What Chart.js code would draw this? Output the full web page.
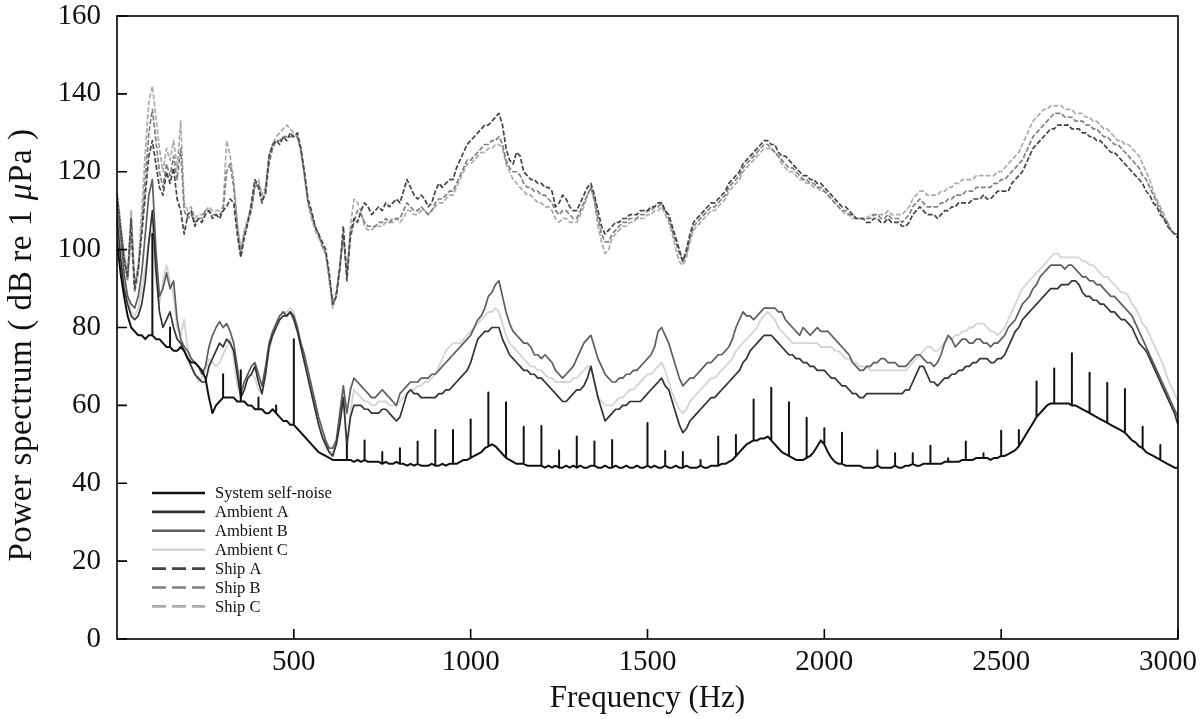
<!DOCTYPE html>
<html>
<head>
<meta charset="utf-8">
<script src="https://cdn.jsdelivr.net/npm/chart.js@4.4.1/dist/chart.umd.min.js"></script>
<style>
  body { margin: 0; background: #fff; }
</style>
</head>
<body>
<canvas id="spectrum" width="1200" height="719"></canvas>
<script>
// spectra sampled every 10 Hz, 0..3000 Hz (one row = 100 Hz)
const freq = Array.from({ length: 301 }, (_, i) => i * 10);

const selfNoise = [
  102, 94, 88, 83, 80, 79, 78, 78, 77, 78,
  78, 77, 77, 76, 75, 75, 74, 74, 75, 74,
  72, 71, 71, 70, 69, 67, 62, 58, 60, 61,
  62, 62, 62, 62, 61, 61, 61, 60, 60, 59,
  59, 59, 58, 58, 59, 58, 57, 56, 56, 55,
  55, 54, 53, 52, 51, 50, 49, 48, 47.5, 47,
  46.5, 46, 46, 46, 46, 46, 46, 45.5, 46, 45.5,
  46, 45.5, 45.5, 45.5, 45.5, 45, 45.5, 45, 45, 45.5,
  45, 45, 44.5, 45, 44.5, 45, 44.5, 44.5, 44.5, 45,
  44.5, 44.5, 45, 44.5, 45, 45, 45, 45.5, 46, 46,
  46.5, 47, 47.5, 48, 49, 49.5, 50, 49.5, 48.5, 47.5,
  46.5, 46, 45.5, 45, 45, 45, 44.5, 44.5, 44.5, 44.5,
  44.5, 44, 44.5, 44, 44.5, 44, 44, 44.5, 44, 44.5,
  44, 44.5, 44, 44, 44.5, 44.5, 44, 44, 44.5, 44,
  44, 44.5, 44, 44, 44.5, 44, 44, 44.5, 44, 44,
  44.5, 44, 44.5, 44, 44, 44.5, 44, 44, 44.5, 44,
  44, 44.5, 44, 44, 44, 44.5, 44, 44, 44.5, 44.5,
  44.5, 45, 45, 45.5, 46, 47, 48, 49, 50, 50.5,
  51, 51, 51.5, 51.5, 52, 51, 50, 49, 48, 47.5,
  47, 46.5, 46, 46, 46, 46.5, 47, 48, 49.5, 51,
  50, 48, 46.5, 45.5, 45, 45, 44.5, 44.5, 44.5, 44.5,
  44.5, 44, 44, 44, 44, 44.5, 44, 44, 44, 44,
  44.5, 44, 44, 44.5, 44.5, 45, 44.5, 44.5, 45, 45,
  45, 45, 45, 45, 45.5, 45.5, 45.5, 45.5, 45.5, 46,
  46, 46, 46, 46.5, 46.5, 46.5, 46.5, 46, 46.5, 46.5,
  47, 47, 47.5, 48, 48.5, 49.5, 51, 52.5, 54, 55.5,
  57, 58, 59, 60, 60.5, 60.5, 60.5, 60.5, 60.5, 60.5,
  60, 60, 59.5, 59, 58.5, 58, 57.5, 57, 56.5, 56,
  55.5, 55, 54.5, 54, 53.5, 53, 52, 51, 50.5, 49.5,
  49, 48, 47.5, 47, 46.5, 46, 45.5, 45, 44.5, 44, 44
];

// power-line harmonics on the self-noise trace
const humFreq = [100, 150, 300, 350, 400, 450, 500, 650, 700, 750, 800,
  850, 900, 950, 1000, 1050, 1100, 1150, 1200, 1250, 1300, 1350, 1400,
  1500, 1550, 1600, 1650, 1700, 1750, 1800, 1850, 1900, 1950, 2000, 2050,
  2150, 2200, 2250, 2300, 2350, 2400, 2450, 2500, 2550, 2600, 2650, 2700,
  2750, 2800, 2850, 2900, 2950];
const humPeak = [104, 80, 68, 69, 62, 60, 77, 50, 51, 48, 49,
  50.7, 53.7, 53.7, 56.4, 63.3, 60.8, 54.5, 54.7, 48.4, 52, 50.7, 51.1,
  55.5, 48.3, 48, 46, 52, 52.4, 61.5, 64.5, 60.8, 56.8, 54.1, 53,
  48.4, 47.7, 47.7, 49.6, 46.4, 50.7, 47.7, 53.5, 53.7, 66.1, 69.5, 73.4,
  68.4, 65.8, 64.2, 54.5, 49.8];

const ambientA = [
  108, 98, 90, 86, 83, 82, 83, 86, 92, 102,
  110, 95, 84, 80, 82, 84, 80, 77, 76, 74,
  72, 70, 68, 67, 66, 66, 70, 72, 74, 76,
  75, 77, 76, 74, 68, 62, 64, 67, 68, 70,
  66, 63, 68, 75, 78, 80, 82, 83, 83, 84,
  82, 79, 75, 71, 67, 63, 59, 55, 52, 50,
  48, 47, 50, 55, 62, 50, 57, 60, 60, 60,
  59, 59, 58, 58, 58, 59, 59, 58, 57, 56,
  57, 60, 63, 64, 63, 63, 62, 62, 62, 62,
  62, 63, 63, 64, 64, 65, 66, 67, 68, 69,
  71, 74, 77, 78, 79, 79, 80, 80, 80, 77,
  75, 73, 72, 71, 70, 69, 69, 68, 68, 67,
  67, 66, 65, 64, 63, 62, 61, 61, 62, 63,
  64, 64, 65, 67, 70, 66, 62, 59, 56, 57,
  58, 59, 59, 60, 60, 61, 61, 61, 61, 62,
  63, 64, 65, 66, 67, 65, 64, 61, 58, 55,
  53, 54, 56, 57, 58, 59, 60, 61, 62, 62,
  63, 64, 65, 66, 67, 68, 69, 71, 72, 74,
  75, 76, 77, 78, 78, 78, 77, 76, 75, 74,
  73, 73, 72, 72, 71, 71, 70, 70, 69, 69,
  69, 68, 67, 67, 66, 65, 65, 64, 63, 63,
  62, 62, 63, 63, 63, 63, 63, 63, 63, 63,
  63, 63, 63, 64, 64, 66, 68, 70, 70, 68,
  66, 66, 65, 66, 67, 67, 68, 68, 69, 69,
  70, 70, 71, 71, 72, 72, 72, 71, 71, 72,
  72, 73, 75, 77, 79, 80, 82, 83, 84, 85,
  86, 87, 88, 89, 90, 90, 90, 91, 91, 91,
  92, 92, 91, 89, 88, 88, 87, 87, 86, 86,
  85, 84, 84, 83, 82, 82, 81, 80, 78, 76,
  75, 74, 72, 70, 68, 66, 64, 62, 60, 58, 55
];

const ambientB = [
  112, 104, 94, 88, 86, 85, 88, 94, 104, 114,
  118, 100, 88, 90, 94, 90, 92, 82, 77, 75,
  74, 72, 71, 70, 68, 70, 75, 78, 80, 81.5,
  80, 81, 79, 76, 70, 63, 66, 68, 70, 71,
  68, 65, 70, 76, 79, 81, 83, 84, 83, 84,
  83, 80, 76, 73, 69, 65, 61, 57, 54, 51,
  49, 49, 51, 58, 65, 58, 64, 67, 66, 65,
  64, 63, 62, 62, 63, 64, 63, 62, 61, 60,
  63, 64, 65, 66, 66, 66, 67, 67, 67, 68,
  68, 69, 70, 71, 72, 73, 74, 75, 76, 77,
  78, 80, 82, 83, 85, 88, 89, 91, 92, 88,
  84, 81, 79, 78, 77, 76, 76, 75, 73, 73,
  72, 73, 72, 71, 69, 68, 67, 68, 69, 70,
  72, 74, 76, 77, 78, 75, 72, 70, 68, 67,
  66, 66, 67, 67, 68, 68, 69, 69, 70, 71,
  72, 73, 75, 79, 80, 78, 76, 73, 70, 67,
  65, 66, 67, 67, 68, 69, 70, 71, 71, 72,
  73, 73, 74, 75, 77, 80, 82, 84, 83, 83,
  82, 83, 84, 85, 85, 85, 85, 84, 84, 82,
  81, 80, 79, 78, 80, 79, 78, 79, 80, 79,
  79, 79, 78, 77, 76, 75, 74, 73, 71, 70,
  69, 69, 70, 70, 71, 71, 72, 72, 71, 71,
  71, 70, 70, 70, 71, 72, 73, 73, 72, 71,
  71, 70, 71, 73, 76, 78, 77, 75, 76, 77,
  77, 76, 76, 77, 77, 76, 76, 75, 76, 76,
  77, 78, 80, 81, 82, 84, 86, 87, 88, 90,
  91, 93, 94, 95, 96, 96, 96, 96, 95, 96,
  96, 95, 94, 93, 93, 92, 92, 91, 91, 90,
  89, 88, 88, 87, 86, 85, 84, 83, 81, 79,
  77, 75, 73, 71, 69, 67, 65, 63, 61, 59, 57
];

const ambientC = [
  110, 100, 92, 88, 84, 83, 85, 90, 95, 102,
  105, 92, 86, 92, 96, 92, 88, 80, 78, 82,
  74, 70, 68, 66, 67, 69, 72, 71, 70, 71,
  73, 75, 77, 72, 65, 63, 66, 68, 68, 67,
  64, 63, 68, 74, 78, 81, 83, 84, 84, 85,
  84, 80, 76, 72, 68, 64, 60, 56, 52, 49,
  48, 48, 50, 56, 63, 48, 58, 64, 63, 62,
  61, 61, 60, 60, 61, 61, 61, 60, 60, 60,
  61, 62, 63, 64, 64, 65, 65, 66, 66, 67,
  68, 70, 72, 74, 75, 76, 76, 76, 77, 78,
  79, 80, 81, 82, 83, 84, 84, 85, 84, 81,
  78, 76, 75, 74, 73, 72, 71, 70, 70, 69,
  69, 68, 67, 67, 66, 66, 66, 66, 66, 67,
  67, 68, 69, 70, 70, 66, 62, 61, 60, 60,
  60, 61, 62, 62, 63, 64, 64, 65, 66, 67,
  68, 68, 69, 70, 71, 69, 66, 63, 61, 59,
  58, 59, 61, 62, 63, 64, 65, 66, 67, 67,
  68, 69, 70, 71, 72, 74, 75, 76, 77, 78,
  79, 80, 82, 83, 84, 83, 82, 80, 79, 78,
  77, 76, 76, 76, 76, 76, 76, 76, 76, 75,
  75, 75, 75, 74, 74, 73, 72, 72, 71, 71,
  70, 70, 70, 69, 69, 69, 69, 69, 69, 69,
  69, 69, 69, 69, 70, 71, 72, 73, 74, 75,
  75, 74, 74, 75, 76, 77, 77, 78, 78, 79,
  79, 80, 80, 81, 81, 81, 80, 79, 79, 78,
  79, 80, 82, 84, 86, 88, 90, 91, 92, 93,
  94, 95, 96, 97, 98, 99, 99, 98, 98, 98,
  98, 98, 98, 97, 97, 96, 96, 95, 94, 93,
  93, 92, 91, 90, 89, 89, 88, 86, 85, 83,
  81, 80, 78, 76, 74, 72, 70, 67, 65, 63, 61
];

const shipA = [
  114, 106, 98, 93, 108, 90, 95, 104, 114, 124,
  128, 122, 116, 114, 120, 117, 121, 113, 110, 104,
  109, 110, 106, 108, 107, 109, 110, 108, 109, 108,
  110, 111, 113, 112, 104, 98, 103, 107, 112, 118,
  116, 112, 115, 124, 127, 128, 127, 129, 128, 130,
  129, 130, 126, 120, 113, 110, 106, 104, 102, 100,
  94, 86, 88, 95, 106, 92, 104, 108, 107, 110,
  112, 111, 109, 110, 111, 110, 112, 111, 112, 113,
  112, 115, 118, 116, 114, 113, 114, 113, 111, 112,
  115, 117, 116, 117, 118, 118, 121, 123, 125, 127,
  128, 129, 130, 131, 132, 132, 133, 134, 135, 132,
  126, 123, 122, 125, 124, 120, 119, 118, 118, 117,
  117, 116, 116, 115, 111, 112, 114, 113, 111, 110,
  110, 112, 114, 116, 117, 114, 110, 106, 104, 105,
  106, 107, 107, 108, 108, 109, 109, 109, 110, 110,
  110, 111, 111, 112, 112, 110, 109, 106, 103, 100,
  97, 100, 104, 107, 108, 109, 110, 111, 112, 112,
  113, 114, 115, 117, 118, 119, 120, 122, 123, 124,
  125, 126, 127, 128, 128, 127, 127, 125, 124, 124,
  123, 122, 121, 120, 119, 119, 118, 118, 117, 117,
  116, 115, 114, 113, 112, 111, 111, 110, 109, 108,
  108, 108, 107, 107, 108, 108, 107, 107, 108, 107,
  107, 107, 106, 106, 107, 109, 110, 111, 110, 109,
  109, 109, 108, 109, 110, 110, 111, 111, 112, 112,
  112, 112, 113, 113, 113, 114, 113, 113, 114, 115,
  115, 115, 115, 117, 118, 119, 120, 122, 124, 126,
  127, 128, 129, 130, 131, 131, 132, 132, 132, 132,
  131, 131, 131, 130, 130, 129, 129, 128, 128, 127,
  126, 125, 125, 124, 123, 122, 121, 120, 119, 118,
  117, 115, 114, 112, 111, 109, 108, 106, 105, 104, 103
];

const shipB = [
  113, 105, 97, 92, 104, 89, 94, 106, 118, 130,
  136, 128, 120, 116, 122, 119, 124, 118, 126, 110,
  108, 109, 107, 108, 108, 110, 110, 109, 109, 109,
  110, 120, 122, 116, 106, 99, 104, 107, 110, 116,
  117, 113, 114, 122, 126, 128, 128, 129, 129, 129,
  129, 129, 125, 119, 112, 109, 106, 104, 101, 99,
  93, 86, 89, 96, 104, 94, 103, 107, 110, 109,
  107, 106, 106, 106, 107, 107, 108, 107, 108, 108,
  108, 110, 112, 111, 110, 110, 111, 110, 109, 110,
  112, 113, 113, 114, 115, 115, 117, 119, 121, 123,
  123, 124, 125, 126, 127, 127, 128, 128, 129, 127,
  123, 121, 120, 120, 119, 117, 116, 116, 115, 115,
  114, 114, 113, 112, 110, 109, 110, 110, 109, 108,
  108, 110, 112, 114, 116, 113, 108, 104, 102, 102,
  104, 105, 106, 107, 107, 108, 108, 108, 109, 109,
  110, 110, 111, 111, 112, 110, 108, 105, 102, 99,
  97, 99, 103, 106, 107, 108, 109, 110, 111, 111,
  112, 113, 114, 116, 117, 118, 119, 121, 122, 123,
  124, 125, 126, 127, 127, 126, 125, 124, 123, 122,
  121, 121, 120, 119, 118, 118, 117, 117, 116, 116,
  115, 114, 113, 112, 111, 110, 110, 109, 109, 108,
  108, 108, 108, 108, 109, 109, 108, 108, 109, 108,
  108, 108, 107, 108, 109, 111, 112, 113, 112, 111,
  111, 111, 111, 112, 112, 113, 113, 114, 114, 114,
  115, 115, 115, 116, 116, 116, 116, 116, 117, 117,
  118, 118, 119, 120, 121, 122, 123, 125, 127, 129,
  130, 131, 132, 133, 134, 135, 135, 135, 134, 134,
  134, 133, 133, 133, 132, 132, 131, 131, 130, 129,
  129, 128, 127, 127, 126, 125, 124, 123, 122, 121,
  119, 118, 116, 114, 112, 110, 108, 107, 105, 104, 104
];

const shipC = [
  115, 107, 99, 94, 110, 91, 96, 110, 125, 138,
  142, 134, 126, 120, 126, 123, 128, 121, 133, 112,
  110, 111, 108, 109, 109, 110, 111, 110, 110, 110,
  111, 128, 124, 118, 107, 100, 105, 108, 111, 117,
  118, 114, 116, 124, 127, 129, 130, 131, 132, 131,
  130, 129, 126, 119, 112, 108, 105, 103, 101, 99,
  92, 85, 88, 95, 103, 93, 106, 113, 112, 110,
  106, 105, 105, 106, 106, 106, 107, 107, 107, 108,
  107, 108, 110, 110, 109, 109, 110, 110, 109, 110,
  111, 112, 112, 113, 114, 114, 116, 118, 120, 122,
  122, 123, 124, 125, 125, 126, 126, 127, 127, 126,
  122, 120, 118, 117, 116, 115, 114, 114, 113, 112,
  112, 111, 111, 110, 108, 107, 108, 108, 107, 107,
  107, 109, 111, 114, 116, 112, 106, 102, 99, 100,
  103, 104, 105, 106, 106, 107, 107, 108, 108, 108,
  109, 109, 110, 110, 111, 109, 107, 104, 100, 97,
  96, 98, 102, 105, 106, 107, 108, 109, 110, 110,
  111, 112, 113, 115, 116, 117, 118, 120, 121, 122,
  123, 124, 125, 126, 126, 126, 125, 124, 122, 121,
  120, 120, 119, 118, 118, 117, 117, 116, 116, 115,
  115, 114, 113, 112, 111, 110, 109, 109, 108, 108,
  108, 108, 108, 109, 109, 109, 109, 109, 110, 109,
  109, 109, 109, 110, 111, 113, 114, 115, 115, 114,
  114, 114, 114, 115, 115, 116, 116, 117, 117, 118,
  118, 118, 118, 119, 119, 119, 119, 119, 119, 120,
  120, 121, 122, 123, 124, 125, 127, 129, 131, 133,
  134, 135, 136, 136, 137, 137, 137, 137, 136, 136,
  136, 135, 135, 135, 134, 134, 133, 133, 132, 131,
  131, 130, 129, 128, 128, 127, 127, 126, 125, 124,
  122, 120, 118, 115, 113, 111, 109, 107, 105, 104, 104
];

const xTicks = [500, 1000, 1500, 2000, 2500, 3000];
const yTicks = [0, 20, 40, 60, 80, 100, 120, 140, 160];

const serif = '"Liberation Serif", "DejaVu Serif", serif';

function pts(values) {
  return freq.map((f, i) => ({ x: f, y: values[i] }));
}

// self-noise trace with the narrow harmonic lines folded in
const selfPts = [];
freq.forEach((f, i) => {
  selfPts.push({ x: f, y: selfNoise[i] });
  const k = humFreq.indexOf(f);
  if (k >= 0) {
    selfPts.push({ x: f, y: humPeak[k] }, { x: f, y: selfNoise[i] });
  }
});

// frame, inward ticks, x labels, y title (italic mu) and the legend inside the plot
const framePlugin = {
  id: 'frame',
  afterDatasetsDraw(chart) {
    const { ctx, chartArea: a, scales: { x, y } } = chart;
    ctx.save();
    ctx.strokeStyle = '#000';
    ctx.lineWidth = 1.6;
    ctx.setLineDash([]);
    ctx.strokeRect(a.left, a.top, a.right - a.left, a.bottom - a.top);
    ctx.beginPath();
    yTicks.forEach(v => {
      const py = y.getPixelForValue(v);
      ctx.moveTo(a.left, py);
      ctx.lineTo(a.left + 10, py);
    });
    xTicks.forEach(v => {
      const px = x.getPixelForValue(v);
      ctx.moveTo(px, a.bottom);
      ctx.lineTo(px, a.bottom - 10);
    });
    ctx.stroke();

    // x tick labels, the last one kept inside the canvas
    ctx.font = '29px ' + serif;
    ctx.fillStyle = '#111';
    ctx.textAlign = 'center';
    ctx.textBaseline = 'middle';
    xTicks.forEach(v => {
      const label = String(v);
      const w = ctx.measureText(label).width;
      const px = Math.min(x.getPixelForValue(v), chart.width - w / 2 - 3);
      ctx.fillText(label, px, a.bottom + 23);
    });

    // y axis title
    ctx.save();
    ctx.translate(22, 345);
    ctx.rotate(-Math.PI / 2);
    ctx.textBaseline = 'middle';
    ctx.textAlign = 'left';
    ctx.fillStyle = '#111';
    ctx.letterSpacing = '0.6px';
    const parts = [['Power spectrum ( dB re 1 ', ''], ['\u03bc', 'italic '], ['Pa )', '']];
    let total = 0;
    parts.forEach(p => {
      ctx.font = p[1] + '33px ' + serif;
      total += ctx.measureText(p[0]).width;
    });
    let cx = -total / 2;
    parts.forEach(p => {
      ctx.font = p[1] + '33px ' + serif;
      ctx.fillText(p[0], cx, 0);
      cx += ctx.measureText(p[0]).width;
    });
    ctx.restore();

    // legend
    ctx.font = '16.5px ' + serif;
    ctx.textAlign = 'left';
    ctx.textBaseline = 'middle';
    ctx.fillStyle = '#111';
    chart.data.datasets.forEach((ds, i) => {
      const ly = 493 + i * 18.9;
      ctx.beginPath();
      ctx.strokeStyle = ds.borderColor;
      ctx.lineWidth = 2.6;
      ctx.setLineDash(ds.legendDash || []);
      ctx.moveTo(152, ly);
      ctx.lineTo(205, ly);
      ctx.stroke();
      ctx.fillText(ds.label, 215, ly + 1);
    });
    ctx.restore();
  }
};

new Chart(document.getElementById('spectrum'), {
  type: 'line',
  data: {
    datasets: [
      { label: 'System self-noise', data: selfPts, borderColor: '#111111', borderWidth: 2 },
      { label: 'Ambient A', data: pts(ambientA), borderColor: '#333333', borderWidth: 1.7 },
      { label: 'Ambient B', data: pts(ambientB), borderColor: '#5e5e5e', borderWidth: 1.7 },
      { label: 'Ambient C', data: pts(ambientC), borderColor: '#d6d6d6', borderWidth: 1.9 },
      { label: 'Ship A', data: pts(shipA), borderColor: '#454545', borderWidth: 1.7, borderDash: [5, 2], legendDash: [14, 6] },
      { label: 'Ship B', data: pts(shipB), borderColor: '#808080', borderWidth: 1.7, borderDash: [5, 2], legendDash: [14, 6] },
      { label: 'Ship C', data: pts(shipC), borderColor: '#ababab', borderWidth: 1.7, borderDash: [5, 2], legendDash: [14, 6] }
    ]
  },
  options: {
    responsive: false,
    animation: false,
    events: [],
    layout: { autoPadding: false, padding: { top: 16, right: 22, left: 0, bottom: 0 } },
    elements: {
      point: { radius: 0 },
      line: { tension: 0, borderJoinStyle: 'round' }
    },
    plugins: {
      legend: { display: false },
      tooltip: { enabled: false }
    },
    scales: {
      x: {
        type: 'linear',
        min: 0,
        max: 3000,
        afterFit: s => {
          s.height = 80;
          s.paddingLeft = 0;
          s.paddingRight = 0;
        },
        grid: { display: false, drawTicks: false },
        border: { display: false },
        ticks: { display: false, stepSize: 500 },
        title: {
          display: true,
          text: 'Frequency (Hz)',
          color: '#111',
          font: { family: serif, size: 31 },
          padding: { top: 0, bottom: 2 }
        }
      },
      y: {
        min: 0,
        max: 160,
        afterFit: s => {
          s.width = 117;
          s.paddingTop = 0;
          s.paddingBottom = 0;
        },
        grid: { display: false, drawTicks: false },
        border: { display: false },
        ticks: {
          stepSize: 20,
          padding: 16,
          color: '#111',
          font: { family: serif, size: 29 },
          callback: v => String(v)
        },
        title: { display: false }
      }
    }
  },
  plugins: [framePlugin]
});
</script>
</body>
</html>
